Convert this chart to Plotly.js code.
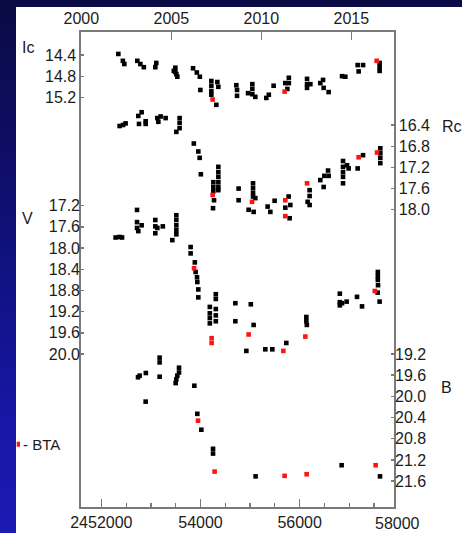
<!DOCTYPE html>
<html>
<head>
<meta charset="utf-8">
<script src="https://cdn.plot.ly/plotly-3.0.1.min.js"></script>
<style>
  html, body { margin: 0; padding: 0; width: 462px; height: 533px; overflow: hidden; }
  body { background: linear-gradient(180deg, #0a0a44 0%, #0f0f74 40%, #1717a6 80%, #1a1ab4 100%); }
  #chart { position: absolute; left: 16px; top: 7px; width: 446px; height: 526px; background: #fff; }
</style>
</head>
<body>
<div id="chart"></div>
<script>
// Light curves (Ic, Rc, V, B) against Julian Date; red points are BTA measurements.

// ---- Ic band ----
const icJd = [52343,52434,52464,52726,52787,52857,53089,53109,53462,53493,53513,53533,53493,53850,53926,53987,53997,54219,54219,54219,54219,54320,54340,54360,54723,54737,54737,54959,55046,55046,55046,55106,55328,55378,55475,55711,55782,55782,55752,56149,56149,56149,56216,56417,56472,56484,56585,56855,56921,57170,57279,57190,57613,57613,57613];
const icMag = [14.38,14.51,14.57,14.51,14.57,14.63,14.63,14.55,14.70,14.64,14.76,14.81,14.72,14.65,14.73,14.81,15.06,14.89,14.98,15.08,15.15,15.34,14.91,15.00,14.97,15.06,15.17,15.12,14.95,15.04,15.14,15.19,15.21,15.15,14.98,14.93,14.83,14.93,15.04,14.85,14.95,15.02,14.95,14.93,14.87,15.02,15.10,14.80,14.81,14.59,14.59,14.71,14.55,14.63,14.70];
const icBtaJd = [54245,55697,57553];
const icBtaMag = [15.24,15.09,14.51];

// ---- Rc band ----
const rcJd = [52369,52438,52490,52746,52813,52760,52894,52894,53130,53196,53297,53150,53579,53579,53579,53513,53866,53956,53983,54007,54259,54259,54259,54273,54253,54360,54360,54360,54360,54360,54360,54769,54769,55060,55060,55060,55060,55106,54971,55072,55354,55409,55495,55778,55711,55812,55798,56201,56201,56201,56161,56417,56498,56573,56484,56585,56875,56875,56875,56875,56875,56956,56988,57170,57279,57627,57627,57627,57627];
const rcMag = [16.42,16.40,16.37,16.23,16.16,16.38,16.33,16.38,16.27,16.24,16.27,16.34,16.27,16.36,16.46,16.53,16.75,16.90,17.02,17.33,17.48,17.57,17.65,17.82,17.97,17.19,17.29,17.38,17.48,17.57,17.63,17.60,17.82,17.50,17.59,17.68,17.75,17.78,18.00,18.04,17.94,18.04,17.83,17.75,17.96,17.91,18.16,17.63,17.74,17.91,17.85,17.44,17.36,17.26,17.57,17.36,17.08,17.19,17.29,17.38,17.50,17.16,17.22,17.22,16.97,16.84,16.93,17.02,17.12];
const rcBtaJd = [54245,55040,55711,55711,56149,57190,57561];
const rcBtaMag = [17.72,17.85,17.82,18.12,17.50,17.01,16.92];

// ---- V band ----
const vJd = [52288,52369,52418,52720,52720,52720,52746,52813,53089,53089,53089,53130,53240,53513,53513,53513,53513,53513,53432,53801,53801,53886,53902,53930,53936,53956,53956,54188,54188,54188,54188,54309,54309,54309,54309,54309,54703,54703,55015,55072,54925,55308,55449,55731,56135,56135,56145,56810,56810,56810,56855,56948,57157,57258,57577,57577,57577,57581,57573,57613];
const vMag = [17.80,17.79,17.80,17.28,17.51,17.62,17.68,17.57,17.47,17.59,17.72,17.62,17.59,17.38,17.47,17.57,17.66,17.74,17.85,17.98,18.10,18.27,18.45,18.55,18.64,18.78,18.93,19.11,19.23,19.32,19.42,18.87,18.96,19.15,19.27,19.38,19.04,19.38,19.06,19.45,19.94,19.91,19.91,19.79,19.30,19.38,19.45,18.86,19.02,19.08,19.04,19.01,18.92,19.10,18.45,18.53,18.60,18.70,18.84,19.01];
const vBtaJd = [53870,54225,54225,54971,55671,56115,57516];
const vBtaMag = [18.38,19.70,19.79,19.63,19.94,19.67,18.81];

// ---- B band ----
const bJd = [52740,52773,52898,52894,53176,53176,53176,53499,53533,53567,53567,53513,53876,53936,54017,54253,54253,55112,56847,57621];
const bMag = [19.64,19.61,19.56,20.10,19.27,19.36,19.63,19.75,19.61,19.55,19.46,19.68,19.80,20.33,20.63,20.99,21.08,21.51,21.30,21.51];
const bBtaJd = [53950,54285,55697,56141,57533];
const bBtaMag = [20.46,21.42,21.50,21.47,21.30];

// ---- tick labels ----
const jdTickVals = [52000, 54000, 56000];
const jdTickText = ['2452000', '54000', '56000'];
const jdEdgeLabel = '58000';
const yearTicks = [2000, 2005, 2010, 2015];
const icTicks = [14.4, 14.8, 15.2];
const vTicks = [17.2, 17.6, 18.0, 18.4, 18.8, 19.2, 19.6, 20.0];
const rcTicks = [16.4, 16.8, 17.2, 17.6, 18.0];
const bTicks = [19.2, 19.6, 20.0, 20.4, 20.8, 21.2, 21.6];

// ---- styling ----
const FONT = 'Liberation Sans, Arial, sans-serif';
const INK = '#1c1c1c';
const FRAME = '#7a7a7a';
const BLACK = '#000000';
const RED = '#ff1414';
const MSIZE = 4.6;
const MAG_SPAN = 8.962;               // magnitudes spanned by the plot height
const revRange = top => [top + MAG_SPAN, top];

function pts(x, y, yaxis, color) {
  return {
    type: 'scatter', mode: 'markers', x: x, y: y, xaxis: 'x', yaxis: yaxis,
    marker: { symbol: 'square', size: MSIZE, color: color, line: { width: 0 } },
    hoverinfo: 'skip', cliponaxis: false
  };
}

const traces = [
  pts(icJd, icMag, 'y', BLACK),  pts(icBtaJd, icBtaMag, 'y', RED),
  pts(vJd, vMag, 'y2', BLACK),   pts(vBtaJd, vBtaMag, 'y2', RED),
  pts(rcJd, rcMag, 'y3', BLACK), pts(rcBtaJd, rcBtaMag, 'y3', RED),
  pts(bJd, bMag, 'y4', BLACK),   pts(bBtaJd, bBtaMag, 'y4', RED),
  // carrier for the calendar-year axis along the top
  { type: 'scatter', mode: 'markers', x: [], y: [], xaxis: 'x2', yaxis: 'y', hoverinfo: 'skip' }
];

const yCommon = {
  ticks: 'inside', ticklen: 3, tickwidth: 1.3, tickcolor: FRAME,
  tickformat: '.1f', tickmode: 'array', showgrid: false, zeroline: false,
  tickfont: { family: FONT, size: 16, color: INK }, fixedrange: true
};

function label(text, x, y, size, xanchor) {
  return { text: text, xref: 'paper', yref: 'paper', x: x, y: y,
           xanchor: xanchor || 'center', yanchor: 'middle',
           showarrow: false, font: { size: size } };
}

const layout = {
  width: 446, height: 526,
  margin: { l: 65, r: 68, t: 25, b: 26 },
  paper_bgcolor: '#ffffff', plot_bgcolor: '#ffffff',
  showlegend: false,
  font: { family: FONT, color: INK },
  xaxis: {
    range: [51590, 57903], tickmode: 'array', tickvals: jdTickVals, ticktext: jdTickText,
    ticks: 'inside', ticklen: 8, tickwidth: 1.5, tickcolor: FRAME,
    showline: true, linecolor: FRAME, linewidth: 1.6,
    showgrid: false, zeroline: false,
    tickfont: { family: FONT, size: 16, color: INK },
    minor: { tickmode: 'linear', tick0: 52000, dtick: 500, ticks: 'inside', ticklen: 4, tickwidth: 1.2, tickcolor: FRAME, showgrid: false }
  },
  xaxis2: {
    overlaying: 'x', side: 'top', anchor: 'y',
    range: [1999.98, 2017.37], tickmode: 'array', tickvals: yearTicks,
    ticks: 'inside', ticklen: 8, tickwidth: 1.5, tickcolor: FRAME,
    showline: true, linecolor: FRAME, linewidth: 1.6,
    showgrid: false, zeroline: false,
    tickfont: { family: FONT, size: 16, color: INK }
  },
  yaxis: Object.assign({}, yCommon, {
    range: revRange(13.966), tickvals: icTicks, side: 'left',
    showline: true, linecolor: FRAME, linewidth: 1.6
  }),
  yaxis2: Object.assign({}, yCommon, {
    overlaying: 'y', anchor: 'x', side: 'left',
    range: revRange(13.923), tickvals: vTicks, showline: false
  }),
  yaxis3: Object.assign({}, yCommon, {
    overlaying: 'y', anchor: 'x', side: 'right',
    range: revRange(14.646), tickvals: rcTicks,
    showline: true, linecolor: FRAME, linewidth: 1.6
  }),
  yaxis4: Object.assign({}, yCommon, {
    overlaying: 'y', anchor: 'x', side: 'right',
    range: revRange(13.126), tickvals: bTicks, showline: false
  }),
  annotations: [
    label('Ic', -0.17, 0.968, 16),
    label('V', -0.17, 0.608, 16),
    label('Rc', 1.185, 0.80, 16),
    label('B', 1.169, 0.2526, 16),
    label(jdEdgeLabel, 1.0096, -0.0337, 16),
    label('- BTA', -0.192, 0.1326, 15, 'left')
  ],
  shapes: [
    { type: 'rect', xref: 'paper', yref: 'paper', x0: -0.2054, x1: -0.1949, y0: 0.1269, y1: 0.1375,
      fillcolor: RED, line: { width: 0 } }
  ]
};

Plotly.newPlot('chart', traces, layout, { displayModeBar: false, staticPlot: true });
</script>
</body>
</html>
